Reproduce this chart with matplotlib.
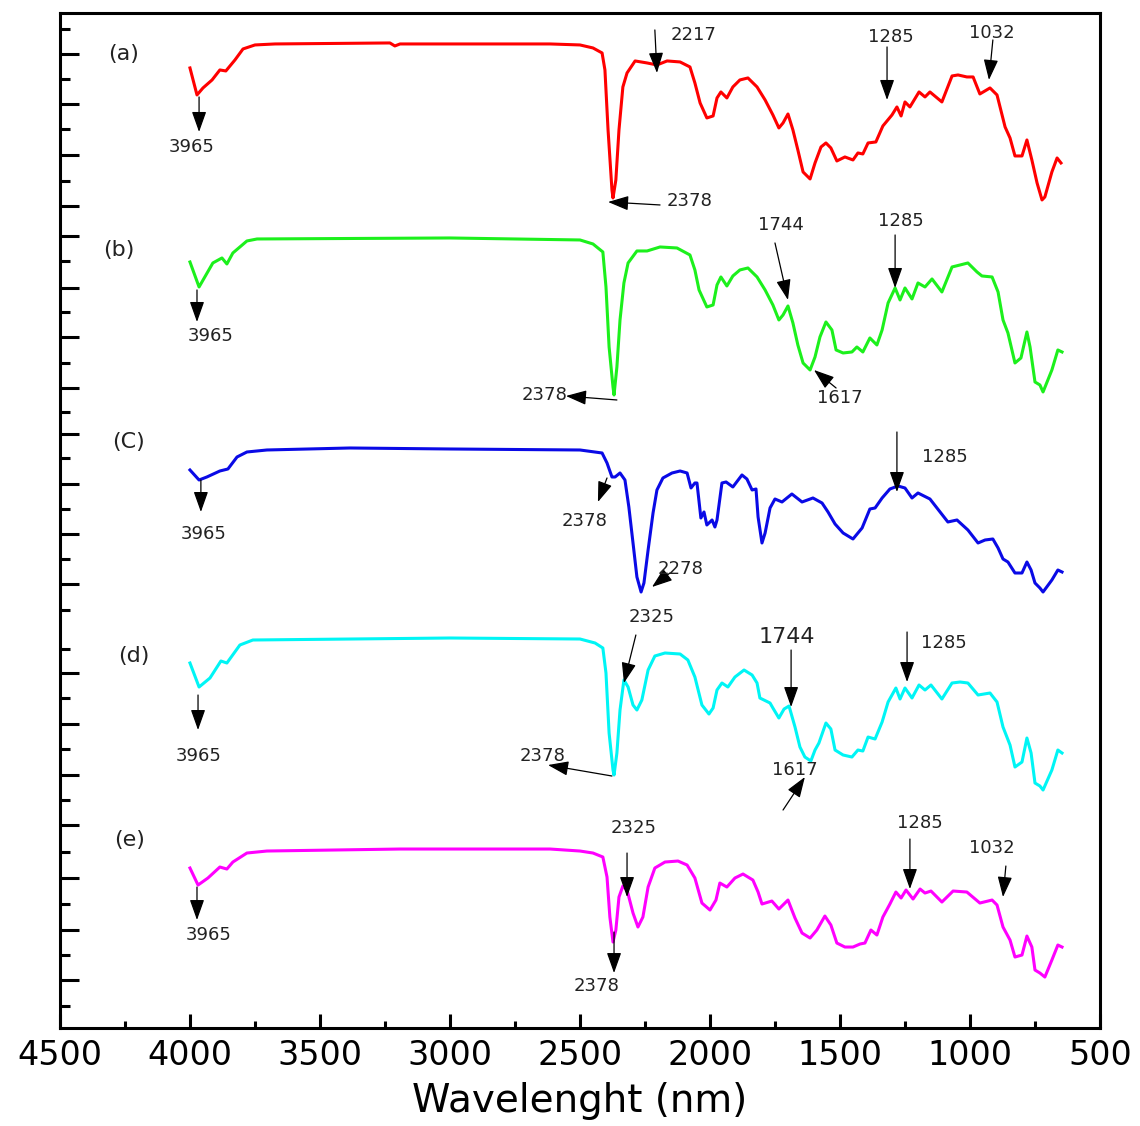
import matplotlib
matplotlib.use('Agg')
import matplotlib.pyplot as plt

# wavenumber (x) and offset transmittance (y)
wn_a = [4000, 3973, 3950, 3915, 3885, 3862, 3827, 3796, 3750, 3673, 3231, 3212, 3192, 2808, 2615,
        2500, 2450, 2415, 2404, 2392, 2377, 2373, 2362, 2350, 2335, 2319, 2288, 2242, 2204, 2165,
        2115, 2077, 2058, 2038, 2012, 1988, 1973, 1958, 1935, 1912, 1885, 1854, 1819, 1788, 1758,
        1735, 1719, 1700, 1681, 1662, 1642, 1615, 1596, 1573, 1554, 1535, 1512, 1481, 1450, 1431,
        1412, 1392, 1362, 1335, 1300, 1281, 1265, 1250, 1231, 1196, 1173, 1154, 1108, 1069, 1046,
        1012, 988, 962, 923, 896, 865, 846, 827, 800, 781, 762, 742, 723, 712, 685, 665, 650]
t_a = [96.0, 93.3, 94.0, 94.8, 95.8, 95.7, 96.8, 97.9, 98.3, 98.4, 98.5, 98.2, 98.4, 98.4, 98.4,
       98.3, 98.0, 97.5, 95.8, 89.8, 83.8, 83.0, 84.8, 89.8, 94.1, 95.5, 96.7, 96.5, 96.3, 96.7,
       96.6, 96.1, 94.5, 92.5, 91.0, 91.2, 93.0, 93.6, 93.0, 94.1, 94.8, 95.0, 94.1, 92.8, 91.3,
       90.0, 90.5, 91.4, 89.8, 87.8, 85.6, 84.9, 86.5, 88.1, 88.5, 88.0, 86.7, 87.1, 86.8, 87.5,
       87.4, 88.5, 88.6, 90.2, 91.3, 92.1, 91.2, 92.6, 92.1, 93.6, 93.1, 93.6, 92.6, 95.2, 95.3,
       95.1, 95.1, 93.4, 94.0, 93.3, 90.1, 89.0, 87.2, 87.2, 88.8, 86.8, 84.5, 82.8, 83.1, 85.6, 87.0, 86.5]

wn_b = [4000, 3965, 3912, 3877, 3858, 3835, 3781, 3742, 3000, 2500, 2450, 2412, 2400, 2388, 2373,
        2369, 2358, 2346, 2331, 2315, 2281, 2242, 2192, 2127, 2077, 2058, 2042, 2012, 1988, 1973,
        1958, 1935, 1912, 1885, 1854, 1819, 1788, 1758, 1735, 1719, 1700, 1681, 1662, 1642, 1615,
        1596, 1577, 1554, 1531, 1515, 1488, 1454, 1435, 1412, 1385, 1358, 1338, 1315, 1288, 1269,
        1250, 1223, 1200, 1173, 1146, 1108, 1069, 1038, 1008, 973, 954, 915, 892, 873, 854, 827,
        804, 781, 769, 750, 731, 719, 685, 662, 646]
t_b = [76.6, 74.1, 76.5, 77.0, 76.4, 77.5, 78.7, 78.9, 79.0, 78.8, 78.4, 77.6, 74.1, 68.1, 64.1,
       63.3, 66.1, 70.8, 74.5, 76.5, 77.7, 77.7, 78.1, 78.0, 77.3, 75.8, 73.8, 72.1, 72.3, 74.3,
       75.1, 74.2, 75.2, 75.8, 76.0, 75.1, 73.8, 72.3, 70.8, 71.3, 72.2, 70.5, 68.3, 66.5, 65.8,
       67.1, 69.1, 70.6, 69.8, 67.8, 67.5, 67.6, 68.1, 67.6, 69.0, 68.3, 69.8, 72.5, 74.0, 72.8,
       74.0, 72.9, 74.5, 74.1, 74.9, 73.6, 76.1, 76.3, 76.5, 75.6, 75.2, 75.1, 73.6, 70.8, 69.5, 66.5,
       67.0, 69.6, 68.1, 64.6, 64.3, 63.6, 65.8, 67.8, 67.6]

wn_c = [4000, 3965, 3935, 3885, 3854, 3819, 3781, 3704, 3385, 3000, 2500, 2415, 2396, 2377, 2365,
        2346, 2327, 2312, 2296, 2281, 2265, 2254, 2238, 2219, 2204, 2181, 2146, 2115, 2088, 2073,
        2058, 2050, 2035, 2023, 2012, 1992, 1981, 1973, 1954, 1938, 1912, 1877, 1858, 1838, 1823,
        1815, 1800, 1788, 1769, 1750, 1723, 1685, 1646, 1604, 1569, 1546, 1519, 1488, 1450, 1415,
        1385, 1365, 1338, 1308, 1277, 1250, 1223, 1200, 1154, 1115, 1085, 1050, 1008, 969, 942,
        912, 892, 873, 854, 827, 800, 781, 765, 750, 731, 719, 685, 662, 646]
t_c = [55.8, 54.8, 55.1, 55.7, 55.9, 57.1, 57.6, 57.8, 58.0, 57.9, 57.8, 57.5, 56.5, 55.1, 55.1,
       55.5, 54.8, 52.1, 48.5, 45.1, 43.6, 44.5, 47.8, 51.5, 53.8, 55.0, 55.5, 55.7, 55.5, 54.0,
       54.5, 54.5, 51.0, 51.6, 50.3, 50.8, 50.1, 50.8, 54.5, 54.6, 54.1, 55.3, 54.9, 53.8, 53.9,
       51.1, 48.5, 49.5, 52.0, 52.9, 52.6, 53.4, 52.6, 53.0, 52.5, 51.6, 50.4, 49.5, 48.9, 50.0,
       51.9, 52.0, 53.0, 53.9, 54.2, 54.0, 53.0, 53.5, 52.9, 51.6, 50.6, 50.8, 49.8, 48.5, 48.8,
       48.9, 48.0, 46.9, 46.6, 45.5, 45.5, 46.6, 45.8, 44.5, 44.0, 43.6, 44.8, 45.8, 45.6]

wn_d = [4000, 3965, 3923, 3881, 3858, 3808, 3758, 3000, 2500, 2442, 2412, 2400, 2388, 2373, 2369,
        2358, 2346, 2331, 2315, 2296, 2281, 2262, 2238, 2212, 2173, 2115, 2085, 2058, 2031, 2004,
        1988, 1973, 1954, 1931, 1904, 1869, 1838, 1819, 1808, 1769, 1758, 1735, 1715, 1696, 1673,
        1654, 1635, 1612, 1596, 1581, 1554, 1535, 1519, 1488, 1454, 1431, 1412, 1392, 1365, 1338,
        1315, 1285, 1269, 1250, 1223, 1196, 1173, 1150, 1108, 1069, 1038, 1008, 969, 923, 896,
        873, 846, 827, 800, 781, 765, 750, 731, 719, 685, 662, 646]
t_d = [36.5, 34.1, 35.0, 36.7, 36.5, 38.3, 38.8, 39.0, 38.9, 38.5, 38.0, 35.5, 29.5, 25.8, 25.3,
       27.5, 31.8, 34.8, 34.1, 32.3, 31.8, 32.8, 35.8, 37.2, 37.5, 37.4, 36.8, 35.1, 32.3, 31.4,
       32.0, 33.8, 34.5, 34.1, 35.1, 35.8, 35.3, 34.5, 33.0, 32.5, 32.0, 31.0, 31.9, 32.2, 30.1,
       28.1, 27.1, 26.7, 27.8, 28.5, 30.5, 29.9, 27.8, 27.3, 27.1, 27.8, 27.7, 29.1, 28.9, 30.6,
       32.6, 34.0, 32.9, 34.0, 33.0, 34.3, 33.8, 34.3, 32.9, 34.5, 34.6, 34.5, 33.3, 33.5, 32.6,
       30.1, 28.3, 26.1, 26.6, 29.0, 27.5, 24.5, 24.2, 23.8, 25.8, 27.8, 27.5]

wn_e = [4000, 3969, 3931, 3885, 3858, 3835, 3781, 3704, 3192, 2615, 2500, 2450, 2412, 2396, 2385,
        2373, 2362, 2350, 2335, 2319, 2296, 2277, 2258, 2238, 2212, 2173, 2123, 2088, 2058, 2031,
        2000, 1977, 1962, 1935, 1904, 1873, 1835, 1815, 1800, 1762, 1735, 1700, 1673, 1646, 1615,
        1589, 1558, 1535, 1512, 1481, 1450, 1423, 1404, 1381, 1358, 1335, 1308, 1285, 1265, 1246,
        1219, 1192, 1173, 1150, 1108, 1065, 1012, 962, 915, 896, 873, 846, 827, 800, 781, 762,
        750, 731, 712, 685, 662, 646]
t_e = [16.0, 14.3, 15.0, 16.1, 15.9, 16.6, 17.5, 17.7, 17.9, 17.9, 17.7, 17.5, 17.1, 15.1, 11.1,
       8.6, 9.8, 13.1, 14.2, 13.8, 11.5, 10.1, 11.1, 14.1, 16.0, 16.6, 16.7, 16.3, 15.0, 12.5,
       11.8, 12.8, 14.5, 14.1, 15.0, 15.4, 14.8, 13.6, 12.4, 12.7, 11.9, 12.8, 11.0, 9.5, 9.0,
       9.8, 11.2, 10.3, 8.5, 8.1, 8.1, 8.4, 8.5, 9.8, 9.3, 11.1, 12.4, 13.6, 13.0, 13.8,
       12.9, 13.9, 13.5, 13.7, 12.6, 13.7, 13.6, 12.5, 12.8, 12.3, 10.1, 8.8, 7.1, 7.3, 9.2, 8.1,
       5.8, 5.5, 5.1, 6.8, 8.3, 8.1]

series = [(wn_a, t_a, '#ff0000'), (wn_b, t_b, '#1cf01c'), (wn_c, t_c, '#0a0ae6'),
          (wn_d, t_d, '#00f5f5'), (wn_e, t_e, '#ff00ff')]

panel_labels = ['(a)', '(b)', '(C)', '(d)', '(e)']
panel_pos = [(4254, 97.4), (4273, 77.8), (4238, 58.6), (4215, 37.2), (4231, 18.8)]

# peak marks: label, text position, arrow tail, arrow head
peaks = [
    ('3965', (3992, 88.1), (3965, 93.1), (3965, 89.6)),
    ('2217', (2065, 99.3), (2212, 99.8), (2204, 95.5)),
    ('2378', (2077, 82.7), (2192, 82.3), (2392, 82.6)),
    ('1285', (1304, 99.1), (1319, 98.1), (1319, 92.8)),
    ('1032', (915, 99.5), (912, 98.8), (927, 94.8)),
    ('3965', (3919, 69.2), (3973, 73.8), (3973, 70.6)),
    ('1744', (1727, 80.3), (1750, 78.5), (1700, 72.8)),
    ('1285', (1265, 80.7), (1288, 79.3), (1288, 74.0)),
    ('2378', (2635, 63.3), (2358, 62.8), (2554, 63.2)),
    ('1617', (1500, 63.0), (1515, 64.0), (1600, 65.8)),
    ('3965', (3946, 49.4), (3958, 54.8), (3958, 51.6)),
    ('2378', (2481, 50.7), (2396, 55.0), (2431, 52.6)),
    ('2278', (2115, 45.9), (2154, 45.5), (2223, 44.1)),
    ('1285', (1096, 57.1), (1281, 59.6), (1281, 53.6)),
    ('3965', (3965, 27.2), (3969, 33.3), (3969, 29.8)),
    ('2325', (2223, 41.1), (2285, 39.3), (2331, 34.5)),
    ('1744', (1704, 39.1), (1688, 37.8), (1688, 32.1)),
    ('1285', (1100, 38.5), (1242, 39.6), (1242, 34.6)),
    ('2378', (2642, 27.2), (2377, 25.2), (2623, 26.3)),
    ('1617', (1673, 25.8), (1719, 21.8), (1635, 25.1)),
    ('3965', (3927, 9.3), (3973, 14.1), (3973, 10.8)),
    ('2325', (2292, 20.0), (2319, 17.5), (2319, 13.1)),
    ('2378', (2438, 4.2), (2369, 9.6), (2369, 5.5)),
    ('1285', (1192, 20.5), (1231, 18.9), (1231, 13.9)),
    ('1032', (915, 18.0), (862, 16.2), (873, 13.1)),
]

ymaj = [97.4, 92.4, 87.3, 82.2, 79.2, 74.0, 69.1, 64.0, 59.4, 54.4, 49.4, 44.4,
        35.5, 30.4, 25.3, 20.3, 15.0, 9.8, 4.8]
ymin = [99.9, 94.9, 89.9, 84.7, 76.7, 71.6, 66.5, 61.6, 57.0, 51.9, 46.9, 41.8,
        37.9, 33.0, 27.9, 22.8, 17.6, 12.4, 7.3, 2.2]

fig = plt.figure(figsize=(11.4, 11.26), dpi=100)
ax = fig.add_axes([0.0526, 0.087, 0.9123, 0.9015])

for wn, t, c in series:
    ax.plot(wn, t, color=c, lw=2.2)

for lab, (x, y) in zip(panel_labels, panel_pos):
    ax.text(x, y, lab, fontsize=16, ha='center', va='center', color='#222222')

for lab, txy, tail, head in peaks:
    ax.annotate('', xy=head, xytext=tail,
                arrowprops=dict(arrowstyle='-|>,head_width=0.32,head_length=0.9',
                                color='black', lw=0.9, shrinkA=0, shrinkB=0,
                                mutation_scale=14))
    fs = 16 if (lab == '1744' and txy[1] < 45) else 13
    ax.text(txy[0], txy[1], lab, fontsize=fs, ha='center', va='center', color='#222222')

ax.set_xlim(4500, 500)
ax.set_ylim(0, 101.5)
ax.set_xticks([4500, 4000, 3500, 3000, 2500, 2000, 1500, 1000, 500])
ax.set_xticks([4250, 3750, 3250, 2750, 2250, 1750, 1250, 750], minor=True)
ax.set_yticks(ymaj)
ax.set_yticks(ymin, minor=True)
ax.set_yticklabels([])
ax.tick_params(axis='both', which='both', direction='in', width=2.2, top=False, right=False)
ax.tick_params(axis='x', which='major', length=10, labelsize=24, pad=8)
ax.tick_params(axis='x', which='minor', length=5)
ax.tick_params(axis='y', which='major', length=14)
ax.tick_params(axis='y', which='minor', length=7)
for s in ax.spines.values():
    s.set_linewidth(2.2)

ax.set_xlabel('Wavelenght (nm)', fontsize=28, labelpad=7)

plt.savefig('out.png', dpi=100)
